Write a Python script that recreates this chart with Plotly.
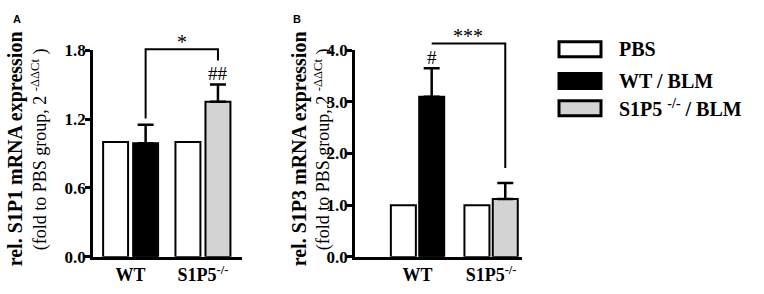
import plotly.graph_objects as go

groups = ["WT", "S1P5-/-"]
group_ticks = ["WT", "S1P5<sup>-/-</sup>"]

# Panel A: S1P1
a_pbs = [1.0, 1.0]
a_blm = [0.99, 1.35]
a_blm_err = [0.16, 0.15]

# Panel B: S1P3
b_pbs = [1.0, 1.0]
b_blm = [3.10, 1.12]
b_blm_err = [0.55, 0.31]

series_names = ["PBS", "WT / BLM", "S1P5 <sup>-/-</sup> / BLM"]
series_fill = ["white", "black", "#d3d3d3"]

W, H = 764, 294
SERIF = "Liberation Serif, Times New Roman, serif"

A_XDOM = [93 / W, 242 / W]
B_XDOM = [355 / W, 522 / W]
YDOM = [1 - 265 / H, 1 - 44 / H]
A_XR, A_YR = [-0.52, 1.54], [0, 1.8]
B_XR, B_YR = [-0.85, 1.42], [0, 4.0]
A_W, A_G = 0.345, 0.07
B_W, B_G = 0.34, 0.045

fig = go.Figure()

def add_panel(xa, ya, pbs, blm, err, w, g):
    fig.add_trace(go.Bar(x=groups, y=pbs, width=w, offset=-(w + g / 2),
                         marker=dict(color=series_fill[0], line=dict(color="black", width=2)),
                         xaxis=xa, yaxis=ya, showlegend=False))
    for i, col in enumerate([series_fill[1], series_fill[2]]):
        fig.add_trace(go.Bar(x=[groups[i]], y=[blm[i]], width=w, offset=g / 2,
                             marker=dict(color=col, line=dict(color="black", width=2)),
                             error_y=dict(type="data", symmetric=False, array=[err[i]],
                                          arrayminus=[0], color="black", thickness=2.5, width=8),
                             xaxis=xa, yaxis=ya, showlegend=False))

add_panel("x", "y", a_pbs, a_blm, a_blm_err, A_W, A_G)
add_panel("x2", "y2", b_pbs, b_blm, b_blm_err, B_W, B_G)

axis_common = dict(showline=True, linecolor="black", linewidth=2.5, showgrid=False, zeroline=False)
tickfont = dict(family=SERIF, size=17, color="black")
xtickfont = dict(family=SERIF, size=18, color="black")

def yticks(vals, fmt):
    return dict(tickvals=vals, ticktext=["<b>" + fmt.format(v) + "</b>" for v in vals])

fig.update_layout(
    width=W, height=H, margin=dict(l=0, r=0, t=0, b=0),
    paper_bgcolor="white", plot_bgcolor="white", barmode="overlay",
    xaxis=dict(domain=A_XDOM, range=A_XR, type="category",
               tickvals=groups, ticktext=["<b>%s</b>" % t for t in group_ticks],
               ticks="", tickfont=xtickfont, **axis_common),
    yaxis=dict(domain=YDOM, range=A_YR, ticks="outside", ticklen=5, tickwidth=2.5, tickcolor="black",
               ticklabelstandoff=-4,
               tickfont=tickfont, anchor="x", **yticks([0, 0.6, 1.2, 1.8], "{:.1f}"), **axis_common),
    xaxis2=dict(domain=B_XDOM, range=B_XR, type="category",
                tickvals=groups, ticktext=["<b>%s</b>" % t for t in group_ticks],
                ticks="", tickfont=xtickfont, anchor="y2", **axis_common),
    yaxis2=dict(domain=YDOM, range=B_YR, ticks="outside", ticklen=5, tickwidth=2.5, tickcolor="black",
                ticklabelstandoff=-4,
                tickfont=tickfont, anchor="x2", **yticks([0, 1, 2, 3, 4], "{:.1f}"), **axis_common),
)

def to_paper(dom, rng, v):
    return dom[0] + (v - rng[0]) / (rng[1] - rng[0]) * (dom[1] - dom[0])

def blm_center(idx, w, g):
    return idx + g / 2 + w / 2

ln = dict(color="black", width=2)

def bracket(xdom, xr, yr, pts):
    path = ""
    for k, (xv, yv) in enumerate(pts):
        path += ("M " if k == 0 else " L ") + "%.5f,%.5f" % (to_paper(xdom, xr, xv), to_paper(YDOM, yr, yv))
    fig.add_shape(type="path", xref="paper", yref="paper", path=path, line=ln)

def label(xdom, xr, yr, xv, yv, text, size):
    fig.add_annotation(x=to_paper(xdom, xr, xv), y=to_paper(YDOM, yr, yv), xref="paper", yref="paper",
                       text=text, showarrow=False, xanchor="center", yanchor="middle",
                       font=dict(family=SERIF, size=size, color="black"))

xa0, xa1 = blm_center(0, A_W, A_G), blm_center(1, A_W, A_G)
bracket(A_XDOM, A_XR, A_YR, [(xa0, 1.205), (xa0, 1.808), (xa1, 1.808), (xa1, 1.71)])
label(A_XDOM, A_XR, A_YR, (xa0 + xa1) / 2, 1.875, "*", 20)
label(A_XDOM, A_XR, A_YR, xa1, 1.595, "##", 19)

xb0, xb1 = blm_center(0, B_W, B_G), blm_center(1, B_W, B_G)
bracket(B_XDOM, B_XR, B_YR, [(xb0, 4.13), (xb1, 4.13), (xb1, 1.72)])
label(B_XDOM, B_XR, B_YR, (xb0 + xb1) / 2, 4.27, "***", 20)
label(B_XDOM, B_XR, B_YR, xb0, 3.86, "#", 19)

def ytitle(x1px, x2px, ycen, line1, line2):
    fig.add_annotation(x=x1px / W, y=1 - ycen / H, xref="paper", yref="paper",
                       text="<b>%s</b>" % line1, textangle=-90, showarrow=False,
                       xanchor="center", yanchor="middle",
                       font=dict(family=SERIF, size=20, color="black"))
    fig.add_annotation(x=x2px / W, y=1 - ycen / H, xref="paper", yref="paper",
                       text=line2, textangle=-90, showarrow=False,
                       xanchor="center", yanchor="middle",
                       font=dict(family=SERIF, size=18, color="black"))

ytitle(15, 40, 150, "rel. S1P1 mRNA expression", "(fold to PBS group, 2 <sup>-ΔΔCt</sup> )")
ytitle(299, 323, 150, "rel. S1P3 mRNA expression", "(fold to PBS group, 2 <sup>-ΔΔCt</sup> )")

for lbl, xp in [("A", 17), ("B", 297)]:
    fig.add_annotation(x=xp / W, y=1 - 11 / H, xref="paper", yref="paper", text="<b>%s</b>" % lbl,
                       showarrow=False, xanchor="center", yanchor="middle",
                       font=dict(family="Liberation Sans, Arial, sans-serif", size=11, color="black"))

legend_rows = [43, 77, 106]
for name, col, yc in zip(series_names, series_fill, legend_rows):
    fig.add_shape(type="rect", xref="paper", yref="paper",
                  x0=559 / W, x1=601 / W, y0=1 - (yc + 8) / H, y1=1 - (yc - 8) / H,
                  fillcolor=col, line=dict(color="black", width=3))
    fig.add_annotation(x=617 / W, y=1 - yc / H, xref="paper", yref="paper",
                       xanchor="left", yanchor="middle",
                       text="<b>%s</b>" % name, showarrow=False,
                       font=dict(family=SERIF, size=20, color="black"))

fig.write_html("out.html", config={"displayModeBar": False},
               post_script="document.documentElement.style.margin='0';document.body.style.margin='0';"
                           "document.body.style.padding='0';document.documentElement.style.overflow='hidden';")
